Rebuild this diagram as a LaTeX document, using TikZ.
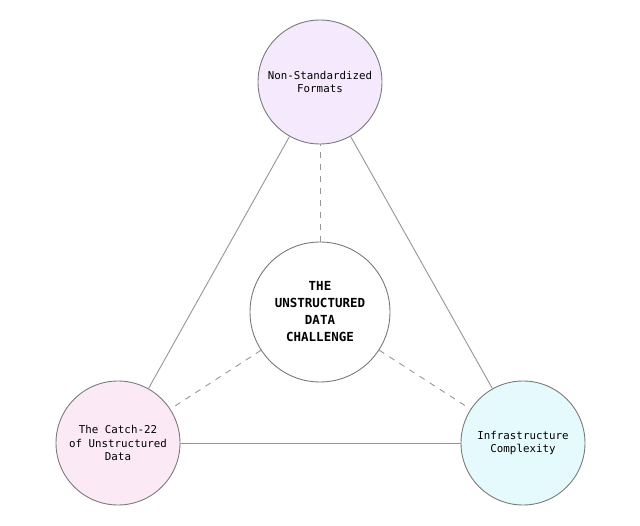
\documentclass[tikz,border=0pt]{standalone}
\usepackage{fontspec}
\setmonofont{DejaVu Sans Mono}
\definecolor{rimgray}{HTML}{7A7A7A}
\definecolor{linegray}{HTML}{959595}
\definecolor{lilac}{HTML}{F4E9FD}
\definecolor{blush}{HTML}{FBEAF6}
\definecolor{icecyan}{HTML}{E5FAFD}
\begin{document}
\begin{tikzpicture}
[
    x=1pt, y=-1pt,
    corner/.style={circle, draw=rimgray, line width=0.9pt, minimum size=124pt, inner sep=0pt,
        align=center, font=\ttfamily\fontsize{10.8}{13.5}\selectfont},
    hub/.style={circle, draw=rimgray, line width=0.9pt, fill=white, minimum size=140pt, inner sep=0pt,
        align=center, font=\ttfamily\bfseries\fontsize{12.5}{17}\selectfont},
    edge/.style={draw=linegray, line width=0.9pt},
    spoke/.style={draw=linegray, line width=0.9pt, dash pattern=on 6pt off 6pt},
]
\useasboundingbox (0,0) rectangle (640,526);
\node[corner, fill=lilac] (formats) at (320,82) {Non-Standardized\\Formats};
\node[corner, fill=blush] (catch) at (118,443) {The Catch-22\\of Unstructured\\Data};
\node[corner, fill=icecyan] (infra) at (523,443) {Infrastructure\\Complexity};
\node[hub] (challenge) at (320,312) {THE\\UNSTRUCTURED\\DATA\\CHALLENGE};
% triangle
\draw[edge] (formats) -- (catch);
\draw[edge] (formats) -- (infra);
\draw[edge] (catch) -- (infra);
% spokes
\draw[spoke] (challenge) -- (formats);
\draw[spoke] (challenge) -- (catch);
\draw[spoke] (challenge) -- (infra);
\end{tikzpicture}
\end{document}
